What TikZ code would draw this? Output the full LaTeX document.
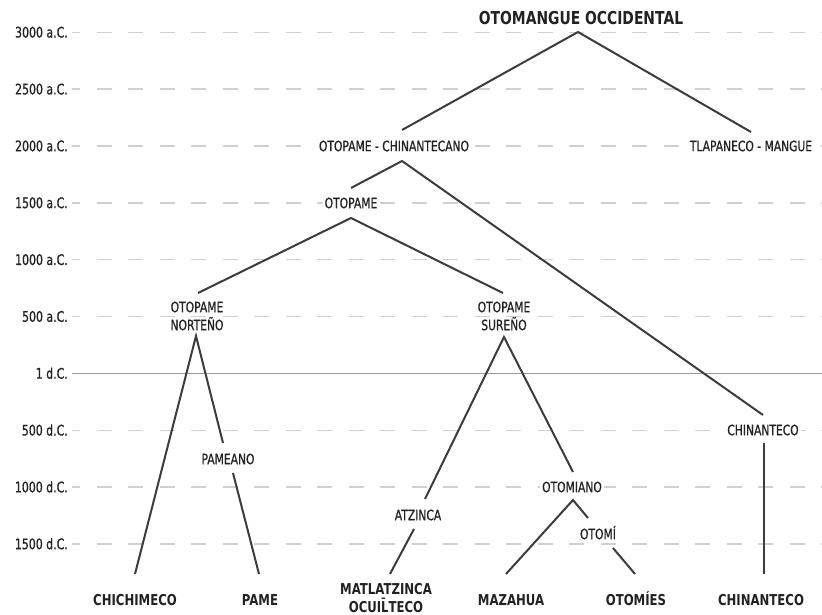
\documentclass[tikz,border=0pt]{standalone}
\usepackage{fontspec}
\setmainfont{DejaVu Sans}[FakeStretch=0.78]
\newfontfamily\labelfont{DejaVu Sans}[FakeStretch=0.75, FakeBold=0.7]
\definecolor{ink}{HTML}{222222}
\definecolor{branchcol}{HTML}{3C3C3C}
\definecolor{gridcol}{HTML}{D0D0D0}
\definecolor{zerocol}{HTML}{9A9A9A}

\tikzset{
	gridline/.style={gridcol, line width=1.3pt, dash pattern=on 15pt off 16.5pt, dash phase=7pt},
	zeroline/.style={zerocol, line width=1.3pt},
	branch/.style={branchcol, line width=2pt},
	axlabel/.style={anchor=east, text=ink, font=\labelfont\fontsize{14.6}{18}\selectfont, inner sep=0pt, text height=10.5pt, text depth=0pt},
	lbl/.style={text=ink, fill=white, inner sep=2pt, font=\labelfont\fontsize{14.3}{18}\selectfont, text height=10.4pt, text depth=0pt},
	lbltwo/.style={text=ink, inner sep=0pt, align=center, font=\labelfont\fontsize{14.3}{18}\selectfont},
	leaf/.style={text=ink, inner sep=0pt, font=\bfseries\fontsize{15}{18}\selectfont, text height=11pt, text depth=0pt},
	leaftwo/.style={text=ink, inner sep=0pt, align=center, font=\bfseries\fontsize{15}{17.5}\selectfont},
	title/.style={text=ink, inner sep=0pt, font=\bfseries\fontsize{17.8}{20}\selectfont, text height=13pt, text depth=0pt}
}

\begin{document}
\begin{tikzpicture}[x=1pt, y=-1pt]
	\useasboundingbox (0,0) rectangle (822,615);

	% time axis
	\foreach \lab/\ls [count=\i from 0, evaluate=\i as \y using 32.3+56.85*\i] in
		{3000 a.C./gridline, 2500 a.C./gridline, 2000 a.C./gridline, 1500 a.C./gridline, 1000 a.C./gridline,
		 500 a.C./gridline, 1 d.C./zeroline, 500 d.C./gridline, 1000 d.C./gridline, 1500 d.C./gridline}
	{
		\node[axlabel] (ax\i) at (68,\y) {\lab};
		\draw[\ls] ([xshift=4pt]ax\i.east) -- (822,\y);
	}

	% tree
	\node[title] (omo) at (581,18) {OTOMANGUE OCCIDENTAL};
	\node[lbl] (och) at (394,146) {OTOPAME - CHINANTECANO};
	\node[lbl] (tlm) at (751,146) {TLAPANECO - MANGUE};
	\node[lbl] (otp) at (351,203) {OTOPAME};
	\node[lbltwo] (nor) at (197,316) {OTOPAME\\NORTEÑO};
	\node[lbltwo] (sur) at (504,316) {OTOPAME\\SUREÑO};
	\node[lbl] (pmn) at (228,459) {PAMEANO};
	\node[lbl] (atz) at (418,515) {ATZINCA};
	\node[lbl] (otm) at (572,487) {OTOMIANO};
	\node[lbl] (oti) at (598,534) {OTOMÍ};
	\node[lbl] (chm) at (763,430) {CHINANTECO};

	\node[leaf] (chi) at (135,600) {CHICHIMECO};
	\node[leaf] (pam) at (260,600) {PAME};
	\node[leaftwo] (mat) at (386,598) {MATLATZINCA\\OCUI\={L}TECO};
	\node[leaf] (maz) at (511,600) {MAZAHUA};
	\node[leaf] (ots) at (636,600) {OTOMÍES};
	\node[leaf] (chn) at (761,600) {CHINANTECO};

	\draw[branch] ([shift={(8,-16)}]och.center) -- ([shift={(-3,14)}]omo.center) -- ([shift={(0,-14)}]tlm.center);
	\draw[branch] ([shift={(0,-15)}]otp.center) -- ([shift={(8,15)}]och.center) -- ([shift={(0,-15)}]chm.center);
	\draw[branch] ([shift={(1,-23)}]nor.center) -- ([shift={(0,15)}]otp.center) -- ([shift={(-1,-23)}]sur.center);
	\draw[branch] ([shift={(0,-26)}]chi.center) -- ([shift={(-1,20)}]nor.center) -- ([shift={(-5,-16)}]pmn.center);
	\draw[branch] ([shift={(5,14)}]pmn.center) -- ([shift={(-1,-26)}]pam.center);
	\draw[branch] ([shift={(7,-16)}]atz.center) -- ([shift={(0,21)}]sur.center) -- ([shift={(1,-15)}]otm.center);
	\draw[branch] ([shift={(-4,14)}]atz.center) -- ([shift={(4,-24)}]mat.center);
	\draw[branch] ([shift={(-5,-26)}]maz.center) -- ([shift={(1,13)}]otm.center) -- ([shift={(-10,-16)}]oti.center);
	\draw[branch] ([shift={(15,14)}]oti.center) -- ([shift={(-1,-26)}]ots.center);
	\draw[branch] ([shift={(1,13)}]chm.center) -- ([shift={(3,-26)}]chn.center);
\end{tikzpicture}
\end{document}
